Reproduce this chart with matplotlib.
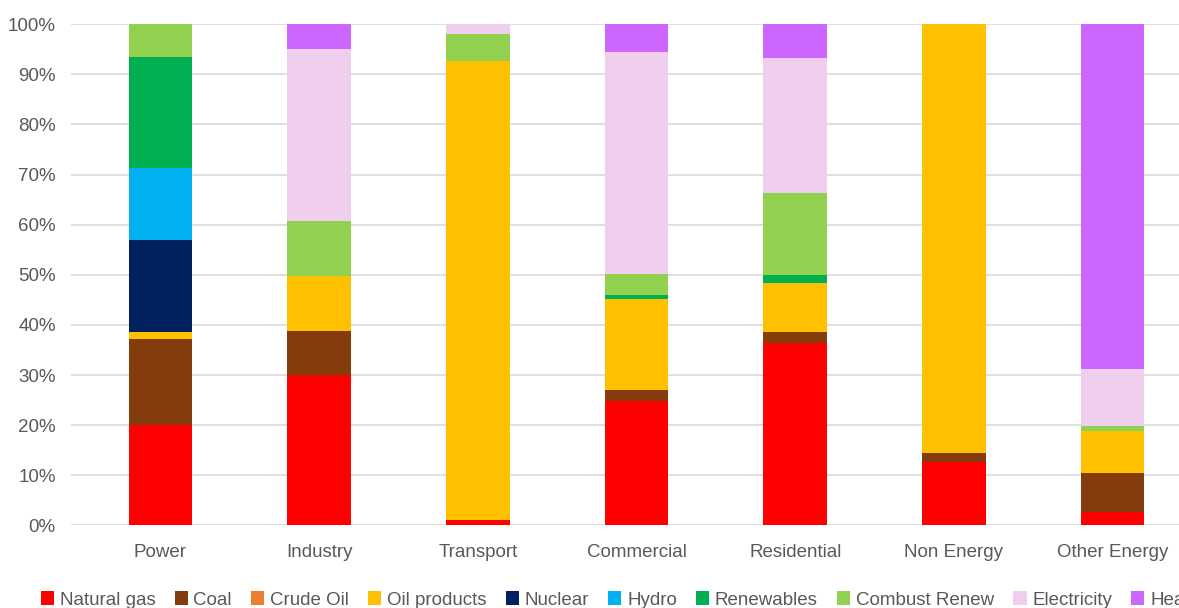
import matplotlib
matplotlib.use("Agg")
import matplotlib.pyplot as plt
import numpy as np

plt.rcParams['font.family'] = ['Liberation Sans', 'DejaVu Sans']

sectors = ["Power", "Industry", "Transport", "Commercial", "Residential", "Non Energy", "Other Energy"]
fuels = ["Natural gas", "Coal", "Crude Oil", "Oil products", "Nuclear", "Hydro",
         "Renewables", "Combust Renew", "Electricity", "Heat"]
colors = ["#ff0000", "#843c0c", "#ed7d31", "#ffc000", "#002060", "#00b0f0",
          "#00b050", "#92d050", "#f0cfee", "#cc66ff"]

# shares (%) per sector
natural_gas   = [20.0, 30.0, 1.0, 24.8, 36.3, 12.6, 2.7]
coal          = [17.1, 8.7, 0.0, 2.2, 2.2, 1.9, 7.8]
crude_oil     = [0.0, 0.0, 0.0, 0.0, 0.0, 0.0, 0.0]
oil_products  = [1.5, 11.0, 91.7, 18.1, 9.9, 85.5, 8.4]
nuclear       = [18.3, 0.0, 0.0, 0.0, 0.0, 0.0, 0.0]
hydro         = [14.4, 0.0, 0.0, 0.0, 0.0, 0.0, 0.0]
renewables    = [22.1, 0.0, 0.0, 0.8, 1.5, 0.0, 0.0]
combust_renew = [6.6, 11.0, 5.4, 4.3, 16.5, 0.0, 1.0]
electricity   = [0.0, 34.3, 1.9, 44.2, 26.8, 0.0, 11.3]
heat          = [0.0, 5.0, 0.0, 5.6, 6.8, 0.0, 68.8]

series = [natural_gas, coal, crude_oil, oil_products, nuclear, hydro,
          renewables, combust_renew, electricity, heat]

fig = plt.figure(figsize=(11.79, 6.08), dpi=100)
ax = fig.add_axes([71 / 1179, 82.7 / 608, 1121 / 1179, 501 / 608])

x = np.arange(len(sectors))
bottom = np.zeros(len(sectors))
handles = []
for name, vals, c in zip(fuels, series, colors):
    vals = np.array(vals)
    b = ax.bar(x, vals, 0.4, bottom=bottom, color=c, label=name, zorder=3)
    handles.append(b)
    bottom += vals

ax.set_xlim(-0.5 - 10 / 158.7, 6.5)
ax.set_ylim(0, 100)
ax.set_yticks(np.arange(0, 101, 10))
ax.set_yticklabels([f"{v}%" for v in range(0, 101, 10)])
ax.set_xticks(x)
ax.set_xticklabels(sectors)
ax.tick_params(axis='both', length=0, labelsize=13.5, colors="#595959")
ax.tick_params(axis='x', pad=13.5)
ax.tick_params(axis='y', pad=11)
ax.grid(axis='y', color="#d9d9d9", linewidth=1.2, zorder=0)
for s in ax.spines.values():
    s.set_visible(False)

# legend runs off the right edge, as in the source image ("Hea...")
fig.legend(handles, fuels, loc='center left', bbox_to_anchor=(24 / 1179, 8 / 608),
           ncol=10, frameon=False, fontsize=13.5, handlelength=0.7, handleheight=0.7,
           handletextpad=0.3, columnspacing=1.03, labelcolor="#595959")

fig.savefig("out.png", dpi=100)
